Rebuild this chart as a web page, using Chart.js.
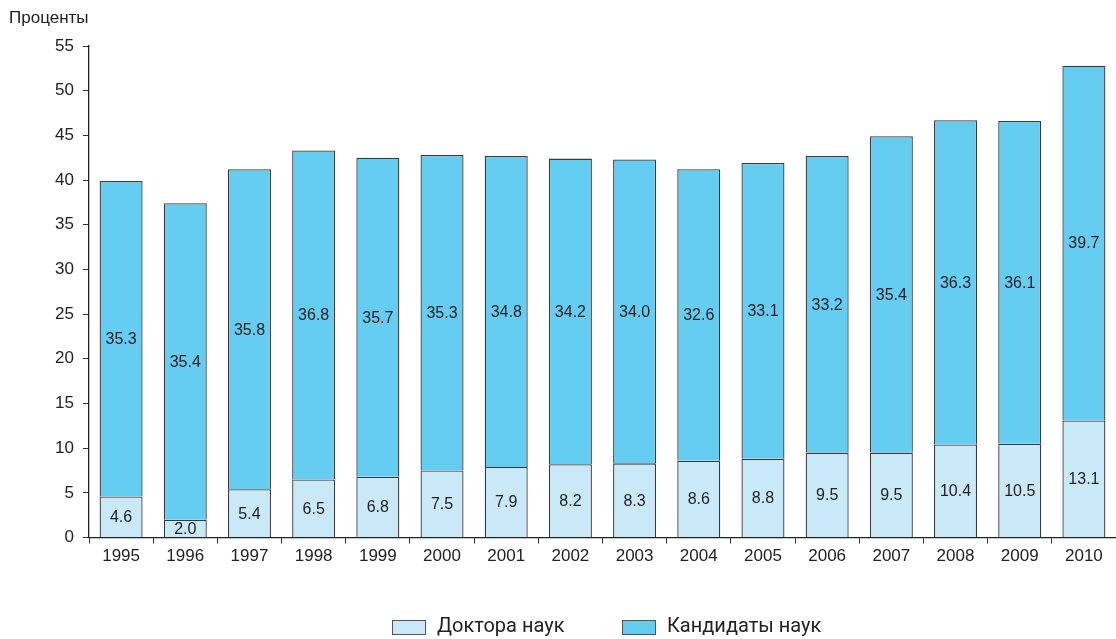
<!DOCTYPE html>
<html>
<head>
<meta charset="utf-8">
<script src="https://cdn.jsdelivr.net/npm/chart.js@4.4.1/dist/chart.umd.min.js"></script>
<style>
  html, body { margin: 0; padding: 0; background: #fff; }
  #wrap { width: 1116px; height: 639px; position: relative; }
</style>
</head>
<body>
<div id="wrap"><canvas id="chart" width="1116" height="639"></canvas></div>
<script>
// Share of doctors and candidates of science, by year (percent)
const years = ['1995','1996','1997','1998','1999','2000','2001','2002','2003','2004','2005','2006','2007','2008','2009','2010'];
const doctors = [4.6, 2.0, 5.4, 6.5, 6.8, 7.5, 7.9, 8.2, 8.3, 8.6, 8.8, 9.5, 9.5, 10.4, 10.5, 13.1];
const candidates = [35.3, 35.4, 35.8, 36.8, 35.7, 35.3, 34.8, 34.2, 34.0, 32.6, 33.1, 33.2, 35.4, 36.3, 36.1, 39.7];
const seriesNames = ['Доктора наук', 'Кандидаты наук'];
const yAxisTitle = 'Проценты';

const TEXT = '#222';
const FONT = "'Liberation Sans', Arial, sans-serif";
const LEGEND_FONT = "Roboto, 'Open Sans', sans-serif";
const fills = ['#c9e9f8', '#66cdf2'];

// Value labels centred in each bar segment
const segmentLabels = {
  id: 'segmentLabels',
  afterDatasetsDraw(chart) {
    const ctx = chart.ctx;
    ctx.save();
    ctx.font = '16px ' + FONT;
    ctx.fillStyle = TEXT;
    ctx.textAlign = 'center';
    ctx.textBaseline = 'middle';
    chart.data.datasets.forEach((ds, di) => {
      const meta = chart.getDatasetMeta(di);
      meta.data.forEach((bar, i) => {
        const y = (bar.y + bar.base) / 2;
        ctx.fillText(ds.data[i].toFixed(1), bar.x, y + 1);
      });
    });
    ctx.restore();
  }
};

// Axis caption and the legend row under the chart
const decorations = {
  id: 'decorations',
  afterDraw(chart) {
    const ctx = chart.ctx;
    ctx.save();
    ctx.font = '17px ' + FONT;
    ctx.fillStyle = TEXT;
    ctx.textBaseline = 'middle';
    ctx.textAlign = 'left';
    ctx.fillText(yAxisTitle, 9, 18);

    const items = [
      { x: 392, label: seriesNames[0], fill: fills[0] },
      { x: 622, label: seriesNames[1], fill: fills[1] }
    ];
    const cy = 627;
    ctx.font = '20px ' + LEGEND_FONT;
    items.forEach(it => {
      ctx.fillStyle = it.fill;
      ctx.fillRect(it.x, cy - 7, 33, 14);
      ctx.strokeStyle = '#555';
      ctx.lineWidth = 1;
      ctx.strokeRect(it.x + 0.5, cy - 6.5, 33, 14);
      ctx.fillStyle = TEXT;
      ctx.fillText(it.label, it.x + 45, cy);
    });
    ctx.restore();
  }
};

new Chart(document.getElementById('chart'), {
  type: 'bar',
  data: {
    labels: years,
    datasets: [
      {
        label: seriesNames[0],
        data: doctors,
        backgroundColor: fills[0],
        borderColor: '#3a3a3a',
        borderWidth: 1.3,
        borderSkipped: 'bottom',
        barPercentage: 0.67,
        categoryPercentage: 1.0
      },
      {
        label: seriesNames[1],
        data: candidates,
        backgroundColor: fills[1],
        borderColor: '#3a3a3a',
        borderWidth: 1.3,
        borderSkipped: 'bottom',
        barPercentage: 0.67,
        categoryPercentage: 1.0
      }
    ]
  },
  options: {
    responsive: false,
    animation: false,
    devicePixelRatio: 1,
    layout: { padding: { top: 46, right: 0, left: 0, bottom: 0 } },
    plugins: {
      legend: { display: false },
      tooltip: { enabled: false }
    },
    scales: {
      x: {
        stacked: true,
        offset: true,
        grid: { display: true, drawOnChartArea: false, drawTicks: true, tickLength: 6, color: '#333', offset: true },
        border: { display: true, color: '#222', width: 1.3 },
        ticks: { color: TEXT, font: { family: FONT, size: 17 }, padding: 3, maxRotation: 0 },
        afterFit(scale) { scale.height = 101.5; }
      },
      y: {
        stacked: true,
        min: 0,
        max: 55,
        grid: { display: true, drawOnChartArea: false, drawTicks: true, tickLength: 6, color: '#333' },
        border: { display: true, color: '#222', width: 1.3 },
        ticks: { stepSize: 5, color: TEXT, font: { family: FONT, size: 17 }, padding: 9 },
        afterFit(scale) { scale.width = 89; }
      }
    }
  },
  plugins: [segmentLabels, decorations]
});
</script>
</body>
</html>
